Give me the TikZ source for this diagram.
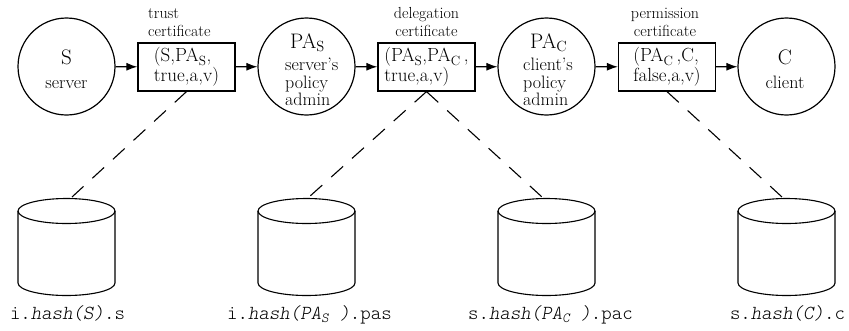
\documentclass[tikz,border=0pt]{standalone}
\usepackage{fontspec}
\newfontfamily\codefont{Latin Modern Mono Light}
\usetikzlibrary{arrows.meta}
\newcommand\headfont{\fontsize{21}{21}\selectfont}
\begin{document}
\begin{tikzpicture}[x=1pt,y=-1pt,
  agent/.style={circle,draw,line width=1.2pt,minimum size=97pt,inner sep=0pt},
  cert/.style={draw,line width=1.2pt,minimum width=97pt,minimum height=48pt,
    inner sep=0pt,align=left,font=\fontsize{19}{17.5}\selectfont},
  agenttext/.style={inner sep=0pt,font=\fontsize{18}{17.5}\selectfont},
  certname/.style={inner sep=0pt,font=\fontsize{16}{18}\selectfont},
  storename/.style={inner sep=0pt,anchor=base,font=\codefont\fontsize{19.9}{20}\selectfont},
  flow/.style={line width=1.2pt,-{Latex[length=11pt,width=8pt]}},
  link/.style={line width=1.1pt,dash pattern=on 16pt off 12pt},
  store/.style={line width=1.1pt}]
\useasboundingbox (0,0) rectangle (849,330);

% principals
\node[agent] (s)   at (66.5,66.5)  {};
\node[agent] (pas) at (306.5,66.5) {};
\node[agent] (pac) at (546.5,66.5) {};
\node[agent] (c)   at (786.5,66.5) {};

\node[agenttext,align=center] (sT) at (66.5,69) {{\headfont S}\\[6pt]server};
\node[agenttext,align=left,anchor=north west] (pasT) at (285,33)
  {\hspace*{5pt}{\headfont PA$_{\mathrm{S}}$}\\[5pt]server's\\policy\\admin};
\node[agenttext,align=left,anchor=north west] (pacT) at (523,33)
  {\hspace*{7pt}{\headfont PA$_{\mathrm{C}}$}\\[5pt]client's\\policy\\admin};
\node[agenttext,align=center] (cT) at (785,69) {{\headfont C}\\[6pt]client};

% certificates
\node[cert] (b1) at (186.5,67) {(S,PA$_{\mathrm{S}}$,\\true,a,v)};
\node[cert] (b2) at (426.5,67) {(PA$_{\mathrm{S}}$,PA$_{\mathrm{C}}$\,,\\true,a,v)};
\node[cert] (b3) at (667,67)   {(PA$_{\mathrm{C}}$\,,C,\\false,a,v)};

\node[certname,align=left,anchor=south west] (b1N) at (148,37) {trust\\certificate};
\node[certname,align=center,anchor=south] (b2N) at (426.5,37) {delegation\\certificate};
\node[certname,align=center,anchor=south] (b3N) at (665,37) {permission\\certificate};

% chain of delegation
\draw[flow] (s) -- (b1);
\draw[flow] (b1) -- (pas);
\draw[flow] (pas) -- (b2);
\draw[flow] (b2) -- (pac);
\draw[flow] (pac) -- (b3);
\draw[flow] (b3) -- (c);

% certificate stores
\foreach \cx in {66.5,306.5,546.5,786.5}{
  \draw[store] (\cx,211) ellipse [x radius=48.5, y radius=12.5];
  \draw[store] (\cx-48.5,211) -- (\cx-48.5,283)
    arc[start angle=180, end angle=0, x radius=48.5, y radius=12.5]
    -- (\cx+48.5,211);
}
\coordinate (d1top) at (72,197);
\coordinate (d2top) at (309,197);
\coordinate (d3top) at (542,197);
\coordinate (d4top) at (782,197);

\draw[link] (b1.south) -- (d1top);
\draw[link] (b2.south) -- (d2top);
\draw[link] (b2.south) -- (d3top);
\draw[link] (b3.south) -- (d4top);

\node[storename] (d1N) at (67.5,319) {i.{\slshape hash(S)}.s};
\node[storename] (d2N) at (309.5,319) {i.{\slshape hash(PA\textsubscript{S} )}.pas};
\node[storename] (d3N) at (550.5,319) {s.{\slshape hash(PA\textsubscript{C} )}.pac};
\node[storename] (d4N) at (787.5,319) {s.{\slshape hash(C)}.c};
\end{tikzpicture}
\end{document}
